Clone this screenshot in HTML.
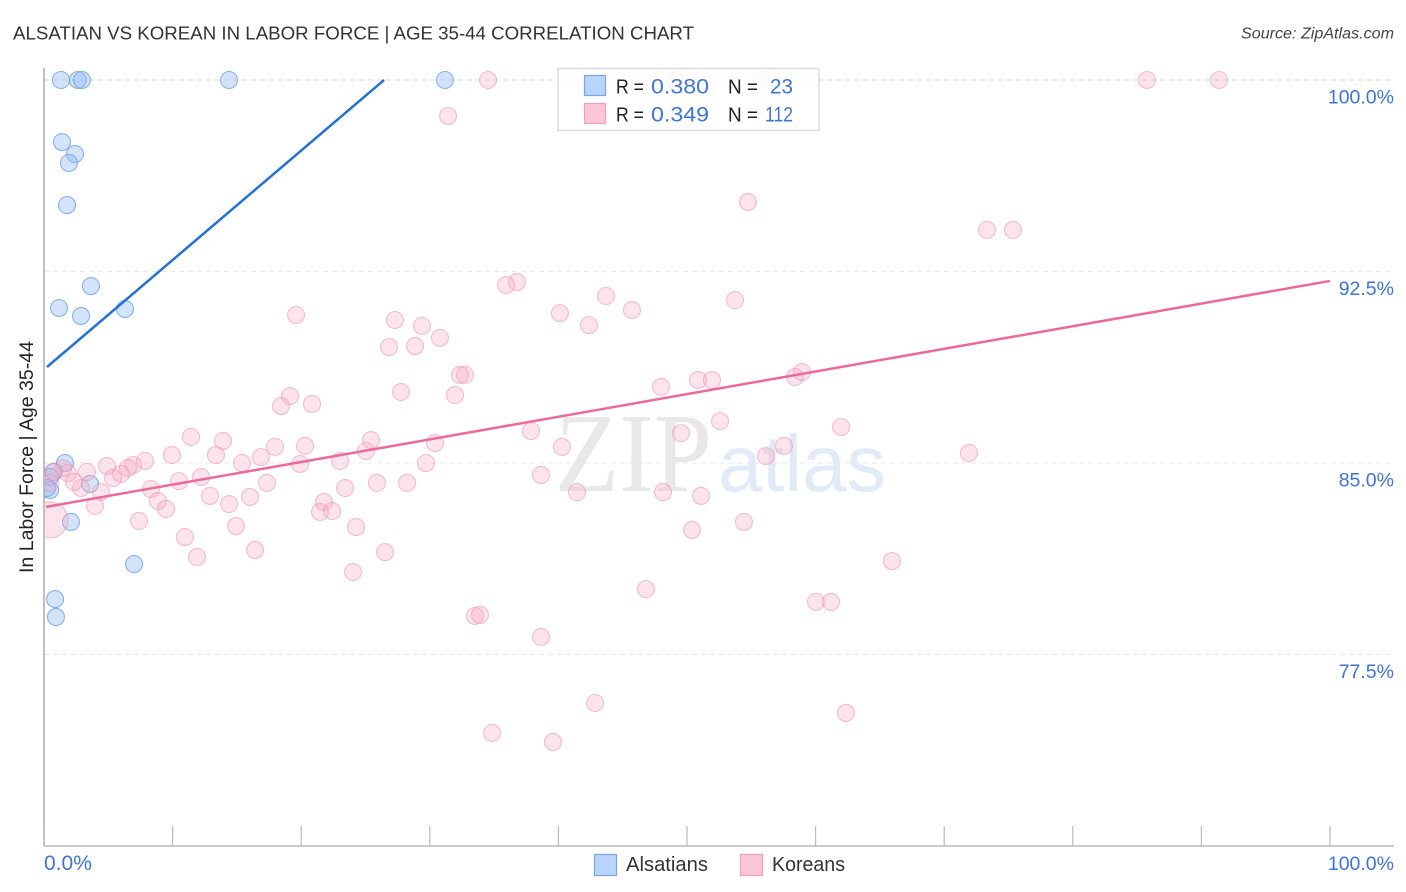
<!DOCTYPE html>
<html lang="en">
<head>
<meta charset="utf-8">
<title>Alsatian vs Korean in Labor Force | Age 35-44 Correlation Chart</title>
<style>
html,body{margin:0;padding:0;background:#fff;width:1406px;height:892px;overflow:hidden}
svg{display:block;font-family:"Liberation Sans",sans-serif}
</style>
</head>
<body>
<svg id="chart" xmlns="http://www.w3.org/2000/svg" width="1406" height="892" viewBox="0 0 1406 892">
  <defs>
    <clipPath id="plot-clip"><rect x="44" y="60" width="1350" height="786"/></clipPath>
  </defs>
  <text x="13" y="39.5" font-size="18.5" fill="#333" textLength="681" lengthAdjust="spacingAndGlyphs">ALSATIAN VS KOREAN IN LABOR FORCE | AGE 35-44 CORRELATION CHART</text>
  <text x="1241" y="38.5" font-size="15.5" font-style="italic" fill="#444" textLength="153" lengthAdjust="spacingAndGlyphs">Source: ZipAtlas.com</text>
  <text transform="translate(33,457) rotate(-90)" font-size="19" fill="#222" text-anchor="middle" textLength="232" lengthAdjust="spacingAndGlyphs">In Labor Force | Age 35-44</text>
  <g id="grid"></g>
  <g>
    <text x="555" y="491" font-family="'Liberation Serif',serif" font-size="112" fill="#e8e8e8" textLength="157" lengthAdjust="spacingAndGlyphs">ZIP</text>
    <text x="718" y="491" font-size="80" fill="#e1ebf8" textLength="168" lengthAdjust="spacingAndGlyphs">atlas</text>
  </g>
  <g id="axes"></g>
  <g id="points" clip-path="url(#plot-clip)"></g>
  <g id="trends"></g>
  <g id="tick-labels" font-size="19" fill="#3f74d0"></g>

  <g>
    <rect x="558" y="68.5" width="261" height="62" fill="#fff" fill-opacity="0.85" stroke="#ddd" stroke-width="1.5"/>
    <rect x="584.5" y="75.5" width="21" height="20" fill="#b8d4f8" stroke="#7aa6e6" stroke-width="1.2"/>
    <rect x="584.5" y="103.5" width="21" height="20" fill="#fcc6d8" stroke="#f0a0ba" stroke-width="1.2"/>
    <g font-size="20.5" fill="#222">
      <text x="616" y="93.5" textLength="28" lengthAdjust="spacingAndGlyphs">R =</text>
      <text x="616" y="121.5" textLength="28" lengthAdjust="spacingAndGlyphs">R =</text>
      <text x="728" y="93.5" textLength="30" lengthAdjust="spacingAndGlyphs">N =</text>
      <text x="728" y="121.5" textLength="30" lengthAdjust="spacingAndGlyphs">N =</text>
    </g>
    <g font-size="21.5" fill="#3f74d0">
      <text x="651" y="93.5" textLength="58" lengthAdjust="spacingAndGlyphs">0.380</text>
      <text x="651" y="121.5" textLength="58" lengthAdjust="spacingAndGlyphs">0.349</text>
      <text x="770" y="93.5" textLength="23" lengthAdjust="spacingAndGlyphs">23</text>
      <text x="765" y="121.5" textLength="28" lengthAdjust="spacingAndGlyphs">112</text>
    </g>
  </g>

  <g>
    <rect x="594.5" y="854.5" width="22" height="21" fill="#b8d4f8" stroke="#7aa6e6" stroke-width="1.2"/>
    <text x="626" y="871" font-size="20" fill="#333" textLength="82" lengthAdjust="spacingAndGlyphs">Alsatians</text>
    <rect x="740.5" y="854.5" width="22" height="21" fill="#fcc6d8" stroke="#f0a0ba" stroke-width="1.2"/>
    <text x="772" y="871" font-size="20" fill="#333" textLength="73" lengthAdjust="spacingAndGlyphs">Koreans</text>
  </g>
</svg>
<script>
const yTickValues = [100, 92.5, 85, 77.5];
const yTickLabels = ["100.0%", "92.5%", "85.0%", "77.5%"];
const xTickValues = [0, 10, 20, 30, 40, 50, 60, 70, 80, 90, 100];
const xEdgeValues = [0, 100];
const xEdgeLabels = ["0.0%", "100.0%"];

const alsatianX = [1.32, 2.64, 2.95, 14.39, 31.18, 1.40, 2.41, 1.94, 1.79, 3.65, 1.17, 2.88, 6.30, 1.63, 0.78, 0.47, 3.58, 0.47, 0.23, 2.10, 7.00, 0.86, 0.93];
const alsatianY = [100, 100, 100, 100, 100, 97.57, 97.10, 96.75, 95.10, 91.93, 91.07, 90.76, 91.03, 85.00, 84.65, 84.45, 84.18, 83.94, 84.02, 82.69, 81.04, 79.67, 78.97];

const koreanX = [34.53, 49.07, 55.83, 85.77, 91.37, 31.42, 54.74, 73.33, 75.35, 36.78, 35.93, 43.70, 53.73, 45.72, 40.12, 19.60, 42.38, 27.29, 29.39, 30.79, 26.83, 28.85, 32.35, 32.74, 27.76, 31.96, 19.13, 18.43, 20.84, 47.98, 50.86, 51.94, 58.40, 58.94, 52.57, 37.87, 49.53, 61.98, 11.43, 13.92, 25.43, 30.40, 20.30, 17.96, 40.28, 57.54, 9.95, 13.37, 16.87, 25.04, 71.93, 56.14, 7.85, 15.40, 19.91, 23.02, 29.70, 4.90, 6.92, 6.53, 3.34, 5.99, 5.37, 12.21, 10.50, 17.34, 23.41, 25.89, 28.23, 38.65, 8.32, 4.43, 12.91, 16.02, 8.86, 41.45, 48.13, 51.09, 21.77, 3.97, 9.49, 14.39, 21.46, 22.40, 7.39, 14.93, 24.26, 54.43, 50.39, 10.96, 26.52, 16.41, 11.90, 65.94, 24.03, 46.81, 60.03, 61.20, 33.51, 33.90, 38.65, 42.85, 62.36, 34.84, 39.58, 2.88, 2.33, 1.87, 1.48, 0.70, 0.47, 0.47];
const koreanY = [100, 100, 100, 100, 100, 98.59, 95.22, 94.13, 94.13, 92.09, 91.97, 91.54, 91.38, 90.99, 90.87, 90.80, 90.40, 90.60, 90.37, 89.90, 89.54, 89.58, 88.45, 88.45, 87.78, 87.66, 87.62, 87.23, 87.31, 87.98, 88.25, 88.25, 88.37, 88.56, 86.64, 86.25, 86.17, 86.41, 86.02, 85.86, 85.90, 85.78, 85.67, 85.63, 85.63, 85.67, 85.31, 85.31, 85.23, 85.47, 85.39, 85.27, 85.08, 85.00, 84.96, 85.08, 85.00, 84.88, 84.92, 84.80, 84.65, 84.57, 84.41, 84.45, 84.29, 84.22, 84.02, 84.22, 84.22, 84.53, 83.98, 83.86, 83.71, 83.67, 83.51, 83.86, 83.86, 83.71, 83.47, 83.32, 83.20, 83.39, 83.08, 83.12, 82.73, 82.53, 82.49, 82.69, 82.38, 82.10, 81.51, 81.59, 81.32, 81.16, 80.73, 80.06, 79.56, 79.56, 79.01, 79.05, 78.19, 75.60, 75.21, 74.43, 74.07, 84.02, 84.26, 84.61, 84.80, 84.65, 84.22, 82.77];
const koreanLargePointIndex = [111];

const alsatianTrendX = [0.23, 26.44];
const alsatianTrendY = [88.76, 100];
const koreanTrendX = [0.16, 100];
const koreanTrendY = [83.28, 92.13];

const SVG_NS = "http://www.w3.org/2000/svg";
const xScale = function (v) { return 44 + v * 12.86; };
const yScale = function (v) { return 80 + (100 - v) * 25.533; };
const make = function (tag, parent, attrs) {
  const el = document.createElementNS(SVG_NS, tag);
  Object.keys(attrs).forEach(function (k) { el.setAttribute(k, attrs[k]); });
  document.getElementById(parent).appendChild(el);
  return el;
};

yTickValues.forEach(function (v, i) {
  const line = make("line", "grid", { x1: 44, x2: 1394, y1: yScale(v), y2: yScale(v), stroke: i === 0 ? "#d4d4d4" : "#e8e8e8", "stroke-width": 1, "stroke-dasharray": "5 4" });
  
  
  const label = make("text", "tick-labels", { x: 1394, y: yScale(v) + 23.5, "text-anchor": "end", "font-size": 19.5 });
  label.textContent = yTickLabels[i];
  
  
});

const yAxisLine = make("line", "axes", { x1: 44, x2: 44, y1: 68, y2: 846, stroke: "#aaa", "stroke-width": 1.5 });


const xAxisLine = make("line", "axes", { x1: 44, x2: 1394, y1: 846, y2: 846, stroke: "#bbb", "stroke-width": 1.5 });


xTickValues.forEach(function (v) {
  const tick = make("line", "axes", { x1: xScale(v), x2: xScale(v), y1: 826, y2: 846, stroke: "#bbb", "stroke-width": 1.2 });
  
  
});
xEdgeValues.forEach(function (v, i) {
  const label = make("text", "tick-labels", { x: i === 0 ? xScale(v) : 1394, y: 870, "text-anchor": i === 0 ? "start" : "end", "font-size": i === 0 ? 21 : 19.5 });
  label.textContent = xEdgeLabels[i];
  
  
});

alsatianX.forEach(function (v, i) {
  const dot = make("circle", "points", { cx: xScale(v), cy: yScale(alsatianY[i]), r: 8.5, fill: "#8fbaf2", "fill-opacity": 0.4, stroke: "#6a9de4", "stroke-opacity": 0.75, "stroke-width": 1.1 });
  
  
});
koreanX.forEach(function (v, i) {
  const large = koreanLargePointIndex.indexOf(i) >= 0;
  const dot = make("circle", "points", { cx: xScale(v), cy: yScale(koreanY[i]), r: large ? 18 : 8.5, fill: "#f8a8c2", "fill-opacity": 0.32, stroke: "#ec8fae", "stroke-opacity": 0.55, "stroke-width": 1.1 });
  
  
});

const alsatianTrend = make("line", "trends", { x1: xScale(alsatianTrendX[0]), y1: yScale(alsatianTrendY[0]), x2: xScale(alsatianTrendX[1]), y2: yScale(alsatianTrendY[1]), stroke: "#2470d6", "stroke-width": 2.5 });


const koreanTrend = make("line", "trends", { x1: xScale(koreanTrendX[0]), y1: yScale(koreanTrendY[0]), x2: xScale(koreanTrendX[1]), y2: yScale(koreanTrendY[1]), stroke: "#ec6a9a", "stroke-width": 2.5 });


</script>
</body>
</html>
